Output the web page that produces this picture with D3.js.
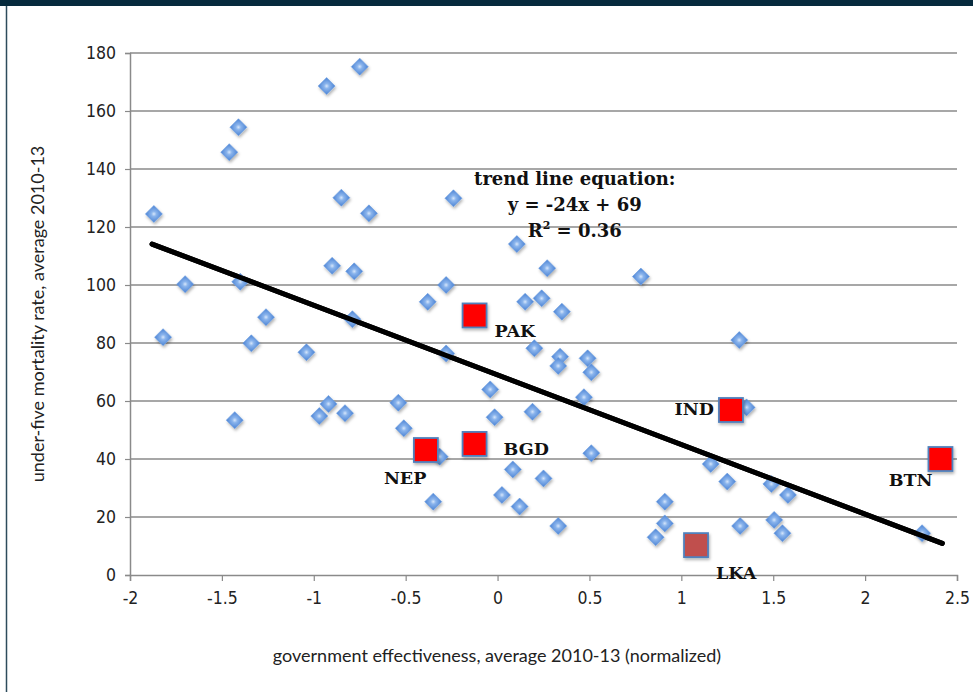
<!DOCTYPE html>
<html>
<head>
<meta charset="utf-8">
<script src="https://cdn.jsdelivr.net/npm/d3@7"></script>
<style>
  body { margin: 0; background: #fff; }
  svg { display: block; }
</style>
</head>
<body>
<script>
  // government effectiveness (x) vs under-five mortality (y)
  const govEff = [-1.87, -1.82, -1.70, -1.43, -1.40, -1.34, -1.26, -1.04, -0.90, -0.78,
    -0.79, -0.92, -0.97, -0.83, -0.54, -1.46, -1.41, -0.93, -0.75, -0.85,
    -0.70, -0.24, 0.105, 0.27, 0.78, -0.28, -0.38, 0.15, 0.24, 0.35,
    0.20, 0.34, 0.33, 0.49, 0.51, -0.28, -0.04, 0.47, -0.016, 0.19,
    -0.51, -0.315, 0.51, 0.083, 0.25, -0.35, 0.024, 0.12, 0.33, 0.91,
    0.91, 0.86, 1.315, 1.355, 1.16, 1.25, 1.49, 1.58, 1.32, 1.505,
    1.55, 2.31];
  const mortality = [124.5, 82.0, 100.3, 53.4, 101.1, 79.9, 88.9, 76.8, 106.6, 104.7,
    88.2, 59.0, 54.8, 55.8, 59.4, 145.8, 154.4, 168.6, 175.3, 130.1,
    124.7, 129.9, 114.1, 105.8, 102.9, 100, 94.2, 94.2, 95.4, 90.8,
    78.2, 75.3, 72.1, 74.7, 69.9, 76.4, 64.0, 61.3, 54.4, 56.3,
    50.6, 40.8, 42.0, 36.4, 33.3, 25.3, 27.6, 23.6, 16.9, 25.3,
    17.8, 13.0, 81.0, 57.8, 38.3, 32.2, 31.4, 27.6, 16.9, 19.0,
    14.4, 14.4];

  // highlighted South Asian countries
  const countries = ["PAK", "BGD", "NEP", "IND", "BTN", "LKA"];
  const countryX = [-0.125, -0.125, -0.39, 1.27, 2.41, 1.08];
  const countryY = [89.5, 45.2, 43.1, 56.9, 40.0, 10.3];

  const xTicks = [-2, -1.5, -1, -0.5, 0, 0.5, 1, 1.5, 2, 2.5];
  const yTicks = [0, 20, 40, 60, 80, 100, 120, 140, 160, 180];

  // trend line y = -24x + 69
  const slope = -24, intercept = 69;
  const trendRange = [-1.88, 2.42];

  const W = 973, H = 692;
  const margin = { top: 53, right: 16, bottom: 117, left: 130 };
  const width = W - margin.left - margin.right;
  const height = H - margin.top - margin.bottom;

  const svg = d3.select("body").append("svg")
    .attr("width", W)
    .attr("height", H);

  // frame: dark band on top and thin line on the left
  svg.append("rect").attr("x", 0).attr("y", 0).attr("width", W).attr("height", 6).attr("fill", "#062a3d");
  svg.append("line").attr("x1", 6.5).attr("x2", 6.5).attr("y1", 6).attr("y2", H)
    .attr("stroke", "#2d4b5c").attr("stroke-width", 1.5);

  const defs = svg.append("defs");
  const grad = defs.append("radialGradient").attr("id", "dia");
  grad.append("stop").attr("offset", "0%").attr("stop-color", "#d6e6fb");
  grad.append("stop").attr("offset", "30%").attr("stop-color", "#8ab4ec");
  grad.append("stop").attr("offset", "100%").attr("stop-color", "#4a82d4");
  const shadow = defs.append("filter").attr("id", "shadow")
    .attr("x", "-50%").attr("y", "-50%").attr("width", "200%").attr("height", "200%");
  shadow.append("feDropShadow").attr("dx", 1).attr("dy", 2).attr("stdDeviation", 1.6)
    .attr("flood-color", "#000").attr("flood-opacity", 0.3);

  const g = svg.append("g")
    .attr("transform", "translate(" + margin.left + "," + margin.top + ")");

  const x = d3.scaleLinear().domain([-2, 2.5]).range([0, width]);
  const y = d3.scaleLinear().domain([0, 180]).range([height, 0]);

  // grid lines
  g.append("g").selectAll("line")
    .data(yTicks.filter(d => d > 0))
    .join("line")
    .attr("x1", 0).attr("x2", width)
    .attr("y1", d => y(d)).attr("y2", d => y(d))
    .attr("stroke", "#8a8a8a").attr("stroke-width", 1.5);

  // axes (plain hyphen for negatives, like the original)
  const fmt = d => String(d);
  const xAxis = g.append("g")
    .attr("transform", "translate(0," + height + ")")
    .call(d3.axisBottom(x).tickValues(xTicks).tickSize(6).tickPadding(11).tickFormat(fmt));
  const yAxis = g.append("g")
    .call(d3.axisLeft(y).tickValues(yTicks).tickSize(5).tickPadding(9).tickFormat(fmt));

  [xAxis, yAxis].forEach(a => {
    a.select(".domain").attr("stroke", "#8a8a8a").attr("stroke-width", 1.5);
    a.selectAll(".tick line").attr("stroke", "#8a8a8a").attr("stroke-width", 1.2);
    a.selectAll(".tick text")
      .attr("fill", "#222")
      .style("font-family", "'DejaVu Sans Condensed', 'Liberation Sans Narrow', Lato, sans-serif")
      .style("font-stretch", "condensed")
      .style("font-size", "17.5px");
  });

  // trend line
  g.append("line")
    .attr("x1", x(trendRange[0])).attr("y1", y(slope * trendRange[0] + intercept))
    .attr("x2", x(trendRange[1])).attr("y2", y(slope * trendRange[1] + intercept))
    .attr("stroke", "#000").attr("stroke-width", 5).attr("stroke-linecap", "round");

  // diamonds
  const pts = govEff.map((v, i) => ({ x: v, y: mortality[i] }));
  g.append("g").selectAll("path")
    .data(pts)
    .join("path")
    .attr("d", "M0,-8.5L8.5,0L0,8.5L-8.5,0Z")
    .attr("transform", d => "translate(" + x(d.x) + "," + y(d.y) + ")")
    .attr("fill", "url(#dia)")
    .attr("stroke", "#6f9fe0").attr("stroke-width", 0.6)
    .attr("filter", "url(#shadow)");

  // redraw the trend line over the points it crosses
  g.append("line")
    .attr("x1", x(trendRange[0])).attr("y1", y(slope * trendRange[0] + intercept))
    .attr("x2", x(trendRange[1])).attr("y2", y(slope * trendRange[1] + intercept))
    .attr("stroke", "#000").attr("stroke-width", 5).attr("stroke-linecap", "round");

  // highlighted countries
  const labelOffset = {
    PAK: [20, 22, "start"], BGD: [29, 11, "start"], NEP: [-42, 34, "start"],
    IND: [-17, 5, "end"], BTN: [-8, 27, "end"], LKA: [20, 34, "start"]
  };
  const sq = countries.map((c, i) => ({ c: c, x: countryX[i], y: countryY[i] }));
  g.append("g").selectAll("rect")
    .data(sq)
    .join("rect")
    .attr("x", d => x(d.x) - 12).attr("y", d => y(d.y) - 12)
    .attr("width", 24).attr("height", 24)
    .attr("fill", d => d.c === "LKA" ? "#c0504d" : "#ff0000")
    .attr("stroke", "#4f81bd").attr("stroke-width", 1.8)
    .attr("filter", "url(#shadow)");

  g.append("g").selectAll("text")
    .data(sq)
    .join("text")
    .attr("x", d => x(d.x) + labelOffset[d.c][0])
    .attr("y", d => y(d.y) + labelOffset[d.c][1])
    .attr("text-anchor", d => labelOffset[d.c][2])
    .style("font-family", "'DejaVu Serif', serif")
    .style("font-weight", "bold")
    .style("font-size", "17.5px")
    .attr("fill", "#111")
    .text(d => d.c);

  // trend line equation
  const eq = g.append("text")
    .attr("text-anchor", "middle")
    .style("font-family", "'DejaVu Serif', serif")
    .style("font-weight", "bold")
    .style("font-size", "18px")
    .attr("fill", "#111");
  eq.append("tspan").attr("x", x(0.42)).attr("y", 132).text("trend line equation:");
  eq.append("tspan").attr("x", x(0.42)).attr("y", 158).text("y = " + slope + "x + " + intercept);
  const r2 = eq.append("tspan").attr("x", x(0.42)).attr("y", 184);
  r2.append("tspan").text("R");
  r2.append("tspan").attr("dy", -8).style("font-size", "11px").text("2");
  r2.append("tspan").attr("dy", 8).text(" = 0.36");

  // axis titles
  svg.append("text")
    .attr("x", 497)
    .attr("y", 662)
    .attr("text-anchor", "middle")
    .style("font-family", "Lato, 'Open Sans', sans-serif")
    .style("font-size", "18px")
    .attr("fill", "#222")
    .text("government effectiveness, average 2010-13 (normalized)");

  svg.append("text")
    .attr("transform", "translate(44," + (margin.top + height / 2) + ") rotate(-90)")
    .attr("text-anchor", "middle")
    .style("font-family", "Lato, 'Open Sans', sans-serif")
    .style("font-size", "18px")
    .attr("fill", "#222")
    .text("under-five mortality rate, average 2010-13");
</script>
</body>
</html>
